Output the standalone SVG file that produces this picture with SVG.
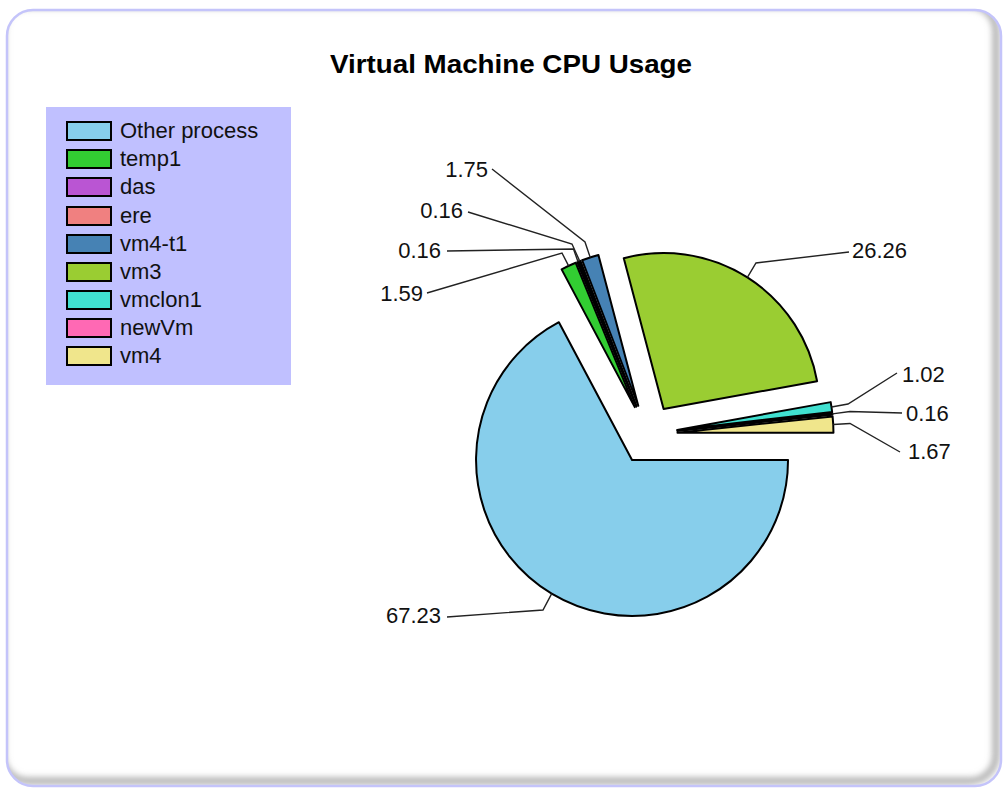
<svg xmlns="http://www.w3.org/2000/svg" width="1005" height="789" viewBox="0 0 1005 789">
  <style>
    .slice { stroke: #000; stroke-width: 2; stroke-linejoin: round; }
    .lead { fill: none; stroke: #222; stroke-width: 1.4; }
    .lbl { font-family: "Liberation Sans", Arial, sans-serif; font-size: 22px; fill: #111; }
    .leg { font-family: "Liberation Sans", Arial, sans-serif; font-size: 22px; fill: #111; }
    .sw { stroke: #000; stroke-width: 2; }
    .title { font-family: "Liberation Sans", Arial, sans-serif; font-size: 26px; font-weight: bold; fill: #000; }
  </style>
  <defs>
    <clipPath id="frameClip">
      <rect x="7" y="10" width="994" height="776" rx="26" ry="26"/>
    </clipPath>
    <filter id="blur" x="-5%" y="-5%" width="110%" height="110%">
      <feGaussianBlur stdDeviation="3"/>
    </filter>
  </defs>
  <rect x="0" y="0" width="1005" height="789" fill="#ffffff"/>
  <g id="frame">
    <rect x="7" y="10" width="994" height="776" rx="26" ry="26" fill="#ffffff"/>
    <g clip-path="url(#frameClip)">
      <rect x="2" y="5" width="994" height="776" rx="26" ry="26" fill="none" stroke="#b0b0b0" stroke-width="7" filter="url(#blur)"/>
    </g>
    <rect x="7" y="10" width="994" height="776" rx="26" ry="26" fill="none" stroke="#c4c4fa" stroke-width="2.5"/>
  </g>
  <g id="title">
    <text class="title" x="511" y="73" text-anchor="middle" textLength="362" lengthAdjust="spacingAndGlyphs">Virtual Machine CPU Usage</text>
  </g>
  <g id="legend">
    <rect x="46" y="107" width="245" height="278" fill="#c0c0ff"/>
    <g id="leg-other"><rect class="sw" x="67" y="122" width="44" height="18" fill="#87ceeb"/><text class="leg" x="120" y="138">Other process</text></g>
    <g id="leg-temp1"><rect class="sw" x="67" y="150" width="44" height="18" fill="#32cd32"/><text class="leg" x="120" y="166">temp1</text></g>
    <g id="leg-das"><rect class="sw" x="67" y="178" width="44" height="18" fill="#ba55d3"/><text class="leg" x="120" y="194">das</text></g>
    <g id="leg-ere"><rect class="sw" x="67" y="207" width="44" height="18" fill="#f08080"/><text class="leg" x="120" y="223">ere</text></g>
    <g id="leg-vm4t1"><rect class="sw" x="67" y="235" width="44" height="18" fill="#4682b4"/><text class="leg" x="120" y="251">vm4-t1</text></g>
    <g id="leg-vm3"><rect class="sw" x="67" y="263" width="44" height="18" fill="#9acd32"/><text class="leg" x="120" y="279">vm3</text></g>
    <g id="leg-vmclon1"><rect class="sw" x="67" y="291" width="44" height="18" fill="#40e0d0"/><text class="leg" x="120" y="307">vmclon1</text></g>
    <g id="leg-newVm"><rect class="sw" x="67" y="319" width="44" height="18" fill="#ff69b4"/><text class="leg" x="120" y="335">newVm</text></g>
    <g id="leg-vm4"><rect class="sw" x="67" y="347" width="44" height="18" fill="#f0e68c"/><text class="leg" x="120" y="363">vm4</text></g>
  </g>
  <g id="slices">
    <path id="s-other" class="slice" fill="#87ceeb" d="M632.04,460.01 L788.04,460.01 A156,156 0 1 1 558.88,322.23 Z"/>
    <path id="s-temp1" class="slice" fill="#32cd32" d="M634.77,407.13 L561.61,269.35 A156,156 0 0 1 575.71,262.75 Z"/>
    <path id="s-das" class="slice" fill="#ba55d3" d="M636.28,406.47 L577.22,262.09 A156,156 0 0 1 578.67,261.50 Z"/>
    <path id="s-ere" class="slice" fill="#f08080" d="M636.56,406.36 L578.95,261.39 A156,156 0 0 1 580.41,260.81 Z"/>
    <path id="s-vm4t1" class="slice" fill="#4682b4" d="M638.26,405.76 L582.11,260.21 A156,156 0 0 1 598.42,254.94 Z"/>
    <path id="s-vm3" class="slice" fill="#9acd32" d="M663.61,408.99 L623.77,258.17 A156,156 0 0 1 817.11,381.21 Z"/>
    <path id="s-vmclon1" class="slice" fill="#40e0d0" d="M677.18,429.90 L830.68,402.12 A156,156 0 0 1 832.15,412.00 Z"/>
    <path id="s-newVm" class="slice" fill="#ff69b4" d="M677.32,431.01 L832.29,413.11 A156,156 0 0 1 832.46,414.67 Z"/>
    <path id="s-vm4" class="slice" fill="#f0e68c" d="M677.46,432.73 L832.60,416.39 A156,156 0 0 1 833.46,432.73 Z"/>
  </g>
  <g id="connectors">
    <path class="lead" d="M551.7,593.7 L543,610 L447,617"/>
    <path class="lead" d="M747.4,277.4 L756,263 L849,252"/>
    <path class="lead" d="M568.6,265.9 L562,253 L427,293"/>
    <path class="lead" d="M578,261.8 L573.5,249 L447,251"/>
    <path class="lead" d="M579.7,261.1 L572,244 L468,212"/>
    <path class="lead" d="M590.2,257.4 L585,242 L492,169"/>
    <path class="lead" d="M831.5,407 L848,404 L897,373"/>
    <path class="lead" d="M832.4,413.9 L850,411.5 L902,413"/>
    <path class="lead" d="M833.2,424.5 L850,423.5 L900,452"/>
  </g>
  <g id="labels">
    <text class="lbl" x="441" y="623" text-anchor="end">67.23</text>
    <text class="lbl" x="852" y="258">26.26</text>
    <text class="lbl" x="423" y="301" text-anchor="end">1.59</text>
    <text class="lbl" x="441" y="258" text-anchor="end">0.16</text>
    <text class="lbl" x="463" y="218" text-anchor="end">0.16</text>
    <text class="lbl" x="488" y="177" text-anchor="end">1.75</text>
    <text class="lbl" x="902" y="382">1.02</text>
    <text class="lbl" x="906" y="421">0.16</text>
    <text class="lbl" x="908" y="459">1.67</text>
  </g>
</svg>
